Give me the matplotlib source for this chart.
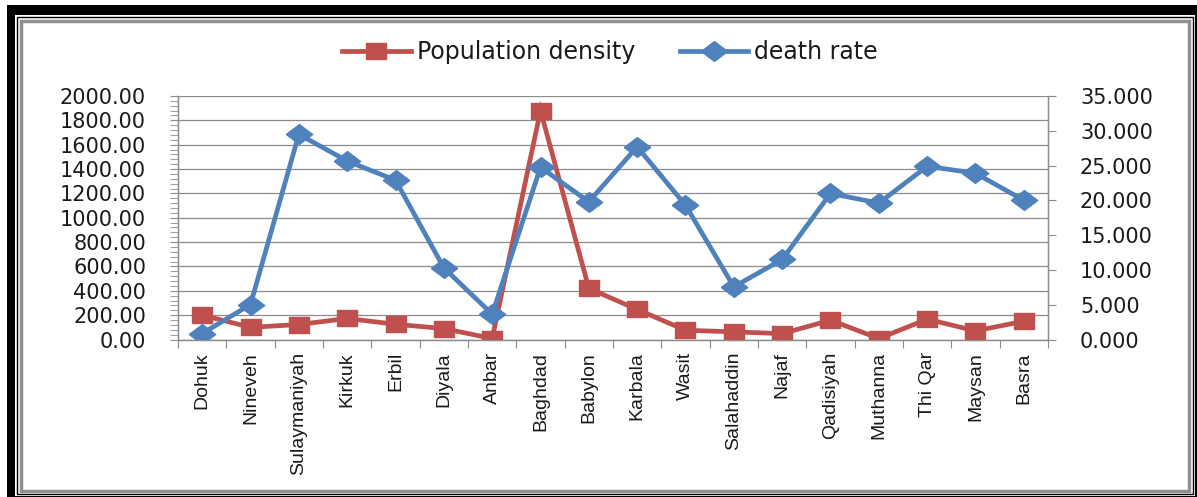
import numpy as np
import matplotlib
matplotlib.use("Agg")
import matplotlib.pyplot as plt
from matplotlib.path import Path
from matplotlib.patches import Rectangle
from matplotlib.ticker import FormatStrFormatter, MultipleLocator
from matplotlib import font_manager

provinces = ["Dohuk", "Nineveh", "Sulaymaniyah", "Kirkuk", "Erbil", "Diyala", "Anbar",
             "Baghdad", "Babylon", "Karbala", "Wasit", "Salahaddin", "Najaf",
             "Qadisiyah", "Muthanna", "Thi Qar", "Maysan", "Basra"]
population_density = [200, 100, 123, 173, 125, 90, 8, 1880, 420, 247, 76, 63, 48,
                      159, 8, 167, 71, 150]
death_rate = [0.86, 5.03, 29.5, 25.65, 22.9, 10.3, 3.64, 24.75, 19.8, 27.7, 19.3,
              7.57, 11.5, 21.0, 19.6, 24.9, 23.9, 20.0]
left_ticks = [0, 200, 400, 600, 800, 1000, 1200, 1400, 1600, 1800, 2000]
right_ticks = [0, 5, 10, 15, 20, 25, 30, 35]

W, H = 1197, 497
RED = "#C0504D"
BLUE = "#4F81BD"
GRID = "#8C8C8C"
TXT = "#1a1a1a"

names = {f.name for f in font_manager.fontManager.ttflist}
if "Liberation Sans Narrow" in names:
    cat_font, cat_size = "Liberation Sans Narrow", 17
else:
    cat_font, cat_size = "Liberation Sans", 14

fig = plt.figure(figsize=(W / 100, H / 100), dpi=100)
fig.patch.set_facecolor("white")


def prect(x0, y0, x1, y1, **kw):
    fig.add_artist(Rectangle((x0 / W, 1 - y1 / H), (x1 - x0) / W, (y1 - y0) / H,
                             transform=fig.transFigure, **kw))


# document frame + chart border
prect(7, 5, 1197, 15, color="black", lw=0)
prect(7, 5, 15, 497, color="black", lw=0)
prect(1194.5, 5, 1196.5, 497, color="black", lw=0)
prect(7, 495.5, 1197, 497, color="black", lw=0)
prect(16.5, 17, 1192.5, 494, fill=False, edgecolor="black", lw=1.0)
prect(20.5, 20.5, 1188.5, 490.5, fill=False, edgecolor="#8f8f8f", lw=2.5)

L, R, T, B = 178, 1048, 96, 339.5
ax = fig.add_axes([L / W, 1 - B / H, (R - L) / W, (B - T) / H])
ax2 = ax.twinx()

x = np.arange(len(provinces))

sq = Path([(-1, -0.76), (1, -0.76), (1, 0.76), (-1, 0.76), (-1, -0.76)])
dm = Path([(-1, 0), (0, 0.75), (1, 0), (0, -0.75), (-1, 0)])

l1, = ax.plot(x, population_density, color=RED, lw=3.4, marker=sq, markersize=15,
              markerfacecolor=RED, markeredgecolor=RED, label="Population density",
              solid_joinstyle="miter")
l2, = ax2.plot(x, death_rate, color=BLUE, lw=3.4, marker=dm, markersize=19,
               markerfacecolor=BLUE, markeredgecolor=BLUE, label="death rate",
               solid_joinstyle="miter")

ax.set_xlim(-0.5, len(provinces) - 0.5)
ax.set_ylim(0, 2000)
ax2.set_ylim(0, 35)

ax.set_yticks(left_ticks)
ax.yaxis.set_major_formatter(FormatStrFormatter("%.2f"))
ax.yaxis.set_minor_locator(MultipleLocator(40))
ax2.set_yticks(right_ticks)
ax2.yaxis.set_major_formatter(FormatStrFormatter("%.3f"))

ax.set_xticks(x)
ax.set_xticklabels(provinces, rotation=90, va="top", ha="center")
ax.set_xticks(np.arange(-0.5, len(provinces), 1), minor=True)

ax.tick_params(axis="x", which="major", length=0, pad=9, labelsize=cat_size,
               labelfontfamily=cat_font, labelcolor=TXT, labelrotation=90)
ax.tick_params(axis="x", which="minor", length=5.5, width=0.8, color=GRID,
               direction="out")
ax.tick_params(axis="y", which="major", length=6, width=0.8, color=GRID,
               direction="out", labelsize=15, labelcolor=TXT, pad=17,
               labelfontfamily="DejaVu Sans")
ax.tick_params(axis="y", which="minor", length=6, width=0.6, color=GRID,
               direction="out")
ax2.tick_params(axis="y", which="major", length=6, width=0.8, color=GRID,
                direction="out", labelsize=15, labelcolor=TXT, pad=17,
                labelfontfamily="DejaVu Sans")

ax.grid(axis="y", which="major", color=GRID, lw=0.9)
ax.set_axisbelow(True)

for a in (ax, ax2):
    for s in a.spines.values():
        s.set_color(GRID)
        s.set_linewidth(0.9)
ax.spines["top"].set_visible(False)
ax2.spines["top"].set_visible(False)

fig.legend(handles=[l1, l2], loc="center", bbox_to_anchor=(610 / W, 1 - 52 / H),
           ncol=2, frameon=False, numpoints=1, handlelength=2.9,
           handletextpad=0.25, columnspacing=1.9, labelcolor=TXT,
           prop={"family": "DejaVu Sans", "size": 17})

fig.savefig("out.png", dpi=100, facecolor="white")
